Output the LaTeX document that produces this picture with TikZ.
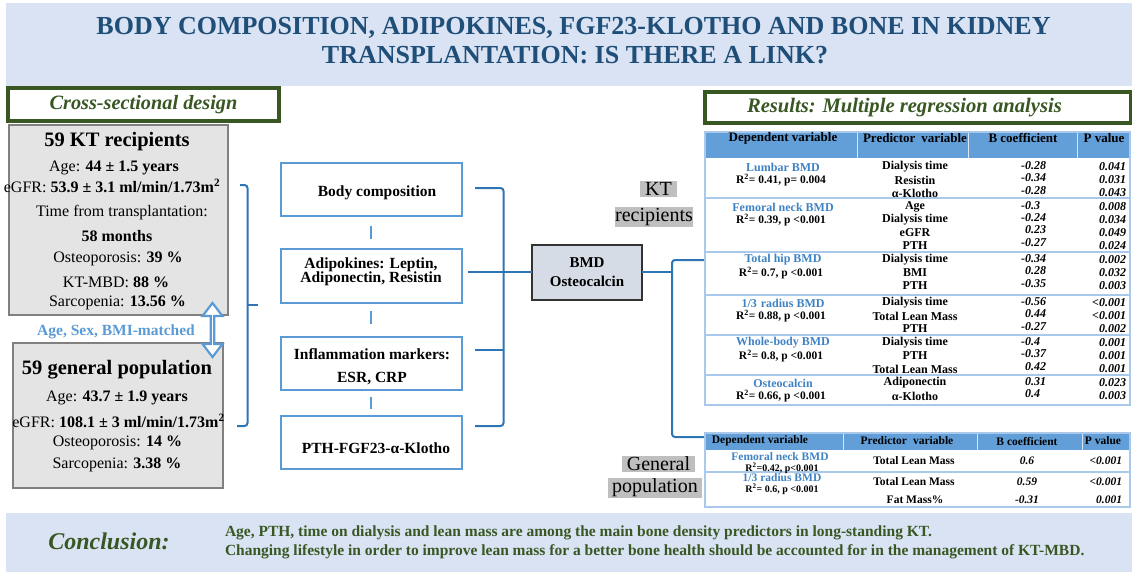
\documentclass[tikz,border=0pt]{standalone}
\usepackage{fontspec}
\setmainfont{Liberation Serif}
\usetikzlibrary{shapes.arrows}
\definecolor{titlebg}{HTML}{DAE3F3}
\definecolor{titleblue}{HTML}{1F4E79}
\definecolor{dgreen}{HTML}{385723}
\definecolor{lblue}{HTML}{5B9BD5}
\definecolor{dblue}{HTML}{2E75B6}
\definecolor{namblue}{HTML}{3E82C4}
\definecolor{hdrblue}{HTML}{629FD9}
\definecolor{rowline}{HTML}{A9C8EA}
\definecolor{boxgray}{HTML}{E4E4E4}
\definecolor{boxedge}{HTML}{808080}
\definecolor{bmdfill}{HTML}{D5DCE6}
\definecolor{labgray}{HTML}{BFBFBF}
\newcommand{\fsz}[1]{\fontsize{#1}{#1}\selectfont}
\begin{document}
\begin{tikzpicture}[x=1pt,y=-1pt,
  every node/.style={inner sep=0pt, outer sep=0pt},
  greenbox/.style={draw=dgreen, line width=3.5pt, fill=white},
  graybox/.style={draw=boxedge, line width=2.5pt, fill=boxgray},
  midbox/.style={draw=lblue, line width=2pt, fill=white, minimum width=181, minimum height=53},
  brace/.style={draw=dblue, line width=2pt, rounded corners=3pt},
  conn/.style={draw=lblue, line width=2pt},
  ltxt/.style={font=\fsz{16}},
  mtxt/.style={font=\fsz{15.5}\bfseries, align=center},
  lab/.style={font=\fsz{20}, fill=labgray, inner xsep=4pt, inner ysep=1pt},
  hdr/.style={font=\fsz{13}\bfseries},
  hdrb/.style={font=\fsz{11.5}\bfseries},
  dep/.style={font=\fsz{12}\bfseries, text=namblue},
  rsq/.style={font=\fsz{11.5}\bfseries},
  pred/.style={font=\fsz{12}\bfseries},
  bco/.style={font=\fsz{12}\bfseries\itshape, anchor=west},
  pval/.style={font=\fsz{12}\bfseries\itshape, anchor=east},
  dep2/.style={font=\fsz{11.5}\bfseries, text=namblue},
  rsq2/.style={font=\fsz{10}\bfseries},
  pred2/.style={font=\fsz{11.5}\bfseries},
  val2/.style={font=\fsz{11.5}\bfseries\itshape}
]
\useasboundingbox (0,0) rectangle (1132,574);
% title band
\fill[titlebg] (6,3) rectangle (1132,86);
\node[font=\fsz{26}\bfseries, text=titleblue] (t1) at (573.5,28) {BODY COMPOSITION, ADIPOKINES, FGF23-KLOTHO AND BONE IN KIDNEY};
\node[font=\fsz{26}\bfseries, text=titleblue] (t2) at (575,55) {TRANSPLANTATION: IS THERE A LINK?};

% cross-sectional design
\node[greenbox, minimum width=271, minimum height=33, font=\fsz{20.3}\bfseries\itshape, text=dgreen] (csd) at (143.5,104.5) {Cross-sectional design};

% KT box
\node[graybox, minimum width=219, minimum height=190] (kt) at (118.5,220) {};
\node[font=\fsz{20.5}\bfseries] (kt0) at (117,142) {59 KT recipients};
\node[ltxt] (kt1) at (114,168) {Age: \textbf{44 ± 1.5 years}};
\node[ltxt] (kt2) at (112,186) {eGFR: \textbf{53.9 ± 3.1 ml/min/1.73m\textsuperscript{2}}};
\node[ltxt] (kt3) at (122,213) {Time from transplantation:};
\node[ltxt] (kt4) at (117,236) {\textbf{58 months}};
\node[ltxt] (kt5) at (118,259) {Osteoporosis: \textbf{39 \%}};
\node[ltxt] (kt6) at (116,282) {KT-MBD: \textbf{88 \%}};
\node[ltxt] (kt7) at (117.5,303) {Sarcopenia: \textbf{13.56 \%}};

% general population box
\node[graybox, minimum width=210, minimum height=145] (gp) at (118,415.5) {};
\node[font=\fsz{20.5}\bfseries] (gp0) at (117,370) {59 general population};
\node[ltxt] (gp1) at (117,398) {Age: \textbf{43.7 ± 1.9 years}};
\node[ltxt] (gp2) at (118.5,421) {eGFR: \textbf{108.1 ± 3 ml/min/1.73m\textsuperscript{2}}};
\node[ltxt] (gp3) at (117.5,443) {Osteoporosis: \textbf{14 \%}};
\node[ltxt] (gp4) at (117,465) {Sarcopenia: \textbf{3.38 \%}};

% matched arrow
\node[font=\fsz{15.5}\bfseries, text=lblue] (asb) at (116,332) {Age, Sex, BMI-matched};
\node[double arrow, draw=lblue, fill=white, line width=2.2pt, rotate=90, minimum height=54, minimum width=20, double arrow head extend=5pt, double arrow tip angle=75] (match) at (212.5,330) {};

% left brace
\coordinate (lb1) at (240,185);
\coordinate (lb2) at (247.5,185);
\coordinate (lb3) at (247.5,426);
\coordinate (lb4) at (237,426);
\coordinate (lbm) at (247.5,305);
\coordinate (lbt) at (258,305);
\draw[brace] (lb1) -- (lb2) -- (lb3) -- (lb4);
\draw[brace] (lbm) -- (lbt);

% middle boxes
\node[midbox] (mb1) at (371,189) {};
\node[midbox, minimum height=54] (mb2) at (371,276) {};
\node[midbox] (mb3) at (371,363) {};
\node[midbox] (mb4) at (371,442.5) {};
\node[mtxt] (mt1) at (377,193) {Body composition};
\node[mtxt] (mt2) at (371,272) {Adipokines: Leptin,\\[-1.5pt]Adiponectin, Resistin};
\node[mtxt, anchor=base] (mt3a) at (372,359) {Inflammation markers:};
\node[mtxt, anchor=base] (mt3b) at (372,382) {ESR, CRP};
\node[mtxt] (mt4) at (376,448) {PTH-FGF23-α-Klotho};
\draw[conn, shorten <=10pt, shorten >=10pt] (mb1.south) -- (mb2.north);
\draw[conn, shorten <=8pt, shorten >=13pt] (mb2.south) -- (mb3.north);
\draw[conn, shorten <=7pt, shorten >=7pt] (mb3.south) -- (mb4.north);

% BMD box
\node[draw=black!80, line width=1.6pt, fill=bmdfill, minimum width=110, minimum height=55] (bmd) at (587,272.5) {};
\node[mtxt, font=\fsz{15}\bfseries] (bmdt) at (587,272) {BMD\\[4pt]Osteocalcin};

% right brace
\coordinate (rb1) at (475,188);
\coordinate (rb2) at (503.5,188);
\coordinate (rb3) at (503.5,426);
\coordinate (rb4) at (475,426);
\coordinate (rbm) at (468,272);
\coordinate (rbj) at (503.5,272);
\coordinate (rbn) at (475,350);
\coordinate (rbk) at (503.5,350);
\draw[brace] (rb1) -- (rb2) -- (rb3) -- (rb4);
\draw[brace] (rbm) -- (rbj);
\draw[brace] (rbn) -- (rbk);
\draw[brace] (rbj) -- (bmd.west |- rbj);

% to tables
\coordinate (tj) at (672,272);
\coordinate (tt) at (672,260);
\coordinate (tb) at (672,437);
\coordinate (t1l) at (704,260);
\coordinate (t2l) at (704,437);
\draw[brace] (bmd.east |- tj) -- (tj);
\draw[brace] (t1l) -- (tt) -- (tb) -- (t2l);

% group labels
\node[lab, minimum width=37] (lkt) at (658.5,189) {KT};
\node[lab, inner xsep=0pt, minimum width=78] (lrec) at (654,217) {recipients};
\node[lab, minimum width=73] (lgen) at (658.5,464) {General};
\node[lab, minimum width=94] (lpop) at (655,488) {population};

% results title
\node[greenbox, minimum width=426, minimum height=31] (res) at (918,107.5) {};
\node[font=\fsz{20.6}\bfseries\itshape, text=dgreen, anchor=west] (rest) at (747,108) {Results: Multiple regression analysis};

% table 1
\fill[hdrblue] (705,132) rectangle (1130,158);
\draw[white!75!lblue, line width=0.6pt] (857,132) -- (857,158) (968,132) -- (968,158) (1077,132) -- (1077,158);
\draw[rowline, line width=1.3pt] (705,198) -- (1130,198) (705,252) -- (1130,252) (705,295) -- (1130,295) (705,335) -- (1130,335) (705,375) -- (1130,375);
\draw[rowline, line width=1.3pt] (705,132) rectangle (1130,405);
\node[hdr] (h1) at (783,138) {Dependent variable};
\node[hdr] (h2) at (915,138) {Predictor\hspace{6pt}variable};
\node[hdr] (h3) at (1023,138) {B coefficient};
\node[hdr] (h4) at (1104,138) {P value};

\node[dep] (d1) at (783,167) {Lumbar BMD};
\node[rsq] (r1) at (781,180) {R\textsuperscript{2}= 0.41, p= 0.004};
\node[pred] (p1a) at (915,167) {Dialysis time};
\node[pred] (p1b) at (915,180) {Resistin};
\node[pred] (p1c) at (915,193) {α-Klotho};
\node[bco] (b1a) at (1025,166) {\llap{-}0.28};
\node[bco] (b1b) at (1025,178) {\llap{-}0.34};
\node[bco] (b1c) at (1025,191) {\llap{-}0.28};
\node[pval] (v1a) at (1126,167) {0.041};
\node[pval] (v1b) at (1126,180) {0.031};
\node[pval] (v1c) at (1126,193) {0.043};

\node[dep] (d2) at (783,207) {Femoral neck BMD};
\node[rsq] (r2) at (781,220) {R\textsuperscript{2}= 0.39, p <0.001};
\node[pred] (p2a) at (915,207) {Age};
\node[pred] (p2b) at (915,220) {Dialysis time};
\node[pred] (p2c) at (915,233) {eGFR};
\node[pred] (p2d) at (915,246) {PTH};
\node[bco] (b2a) at (1025,206) {\llap{-}0.3};
\node[bco] (b2b) at (1025,218) {\llap{-}0.24};
\node[bco] (b2c) at (1025,230) {0.23};
\node[bco] (b2d) at (1025,243) {\llap{-}0.27};
\node[pval] (v2a) at (1126,207) {0.008};
\node[pval] (v2b) at (1126,220) {0.034};
\node[pval] (v2c) at (1126,233) {0.049};
\node[pval] (v2d) at (1126,246) {0.024};

\node[dep] (d3) at (783,260) {Total hip BMD};
\node[rsq] (r3) at (781,273) {R\textsuperscript{2}= 0.7, p <0.001};
\node[pred] (p3a) at (915,260) {Dialysis time};
\node[pred] (p3b) at (915,273) {BMI};
\node[pred] (p3c) at (915,286) {PTH};
\node[bco] (b3a) at (1025,259) {\llap{-}0.34};
\node[bco] (b3b) at (1025,271) {0.28};
\node[bco] (b3c) at (1025,284) {\llap{-}0.35};
\node[pval] (v3a) at (1126,260) {0.002};
\node[pval] (v3b) at (1126,273) {0.032};
\node[pval] (v3c) at (1126,286) {0.003};

\node[dep] (d4) at (783,303) {1/3\hspace{4pt}radius\hspace{3pt}BMD};
\node[rsq] (r4) at (781,316) {R\textsuperscript{2}= 0.88, p <0.001};
\node[pred] (p4a) at (915,303) {Dialysis time};
\node[pred] (p4b) at (915,316) {Total Lean Mass};
\node[pred] (p4c) at (915,329) {PTH};
\node[bco] (b4a) at (1025,302) {\llap{-}0.56};
\node[bco] (b4b) at (1025,314) {0.44};
\node[bco] (b4c) at (1025,327) {\llap{-}0.27};
\node[pval] (v4a) at (1126,303) {<0.001};
\node[pval] (v4b) at (1126,316) {<0.001};
\node[pval] (v4c) at (1126,329) {0.002};

\node[dep] (d5) at (783,343) {Whole-body BMD};
\node[rsq] (r5) at (781,356) {R\textsuperscript{2}= 0.8, p <0.001};
\node[pred] (p5a) at (915,343) {Dialysis time};
\node[pred] (p5b) at (915,356) {PTH};
\node[pred] (p5c) at (915,369) {Total Lean Mass};
\node[bco] (b5a) at (1025,342) {\llap{-}0.4};
\node[bco] (b5b) at (1025,354) {\llap{-}0.37};
\node[bco] (b5c) at (1025,367) {0.42};
\node[pval] (v5a) at (1126,343) {0.001};
\node[pval] (v5b) at (1126,356) {0.001};
\node[pval] (v5c) at (1126,369) {0.001};

\node[dep] (d6) at (783,383) {Osteocalcin};
\node[rsq] (r6) at (781,396) {R\textsuperscript{2}= 0.66, p <0.001};
\node[pred] (p6a) at (915,383) {Adiponectin};
\node[pred] (p6b) at (915,396) {α-Klotho};
\node[bco] (b6a) at (1025,382) {0.31};
\node[bco] (b6b) at (1025,394) {0.4};
\node[pval] (v6a) at (1126,383) {0.023};
\node[pval] (v6b) at (1126,396) {0.003};

% table 2
\fill[hdrblue] (705,433) rectangle (1130,450);
\draw[white!75!lblue, line width=0.6pt] (843,433) -- (843,450) (977,433) -- (977,450) (1082,433) -- (1082,450);
\draw[rowline, line width=1.3pt] (705,472) -- (1130,472);
\draw[rowline, line width=1.3pt] (705,433) rectangle (1130,507);
\node[hdrb] (g1) at (760,441) {Dependent variable};
\node[hdrb] (g2) at (907,441) {Predictor\hspace{6pt}variable};
\node[hdrb] (g3) at (1027,441) {B\hspace{3pt}coefficient};
\node[hdrb] (g4) at (1103,441) {P value};
\node[dep2] (e1) at (780,457) {Femoral neck BMD};
\node[rsq2] (s1) at (782,468) {R\textsuperscript{2}=0.42, p<0.001};
\node[pred2] (q1) at (914,461) {Total Lean Mass};
\node[val2] (c1) at (1027,461) {0.6};
\node[val2, anchor=east] (w1) at (1122,461) {<0.001};
\node[dep2] (e2) at (782,478) {1/3 radius BMD};
\node[rsq2] (s2) at (782,489) {R\textsuperscript{2}= 0.6, p <0.001};
\node[pred2] (q2a) at (914,482) {Total Lean Mass};
\node[pred2] (q2b) at (915,500) {Fat Mass\%};
\node[val2] (c2a) at (1027,482) {0.59};
\node[val2] (c2b) at (1027,500) {-0.31};
\node[val2, anchor=east] (w2a) at (1122,482) {<0.001};
\node[val2, anchor=east] (w2b) at (1122,500) {0.001};

% conclusion
\fill[titlebg] (6,513) rectangle (1132,572);
\node[font=\fsz{24}\bfseries\itshape, text=dgreen] (conc) at (109,541) {Conclusion:};
\node[font=\fsz{15.5}\bfseries, text=dgreen, anchor=west] (cl1) at (225,533) {Age, PTH, time on dialysis and lean mass are among the main bone density predictors in long-standing KT.};
\node[font=\fsz{15.5}\bfseries, text=dgreen, anchor=west] (cl2) at (225,552) {Changing lifestyle in order to improve lean mass for a better bone health should be accounted for in the management of KT-MBD.};
\end{tikzpicture}
\end{document}
